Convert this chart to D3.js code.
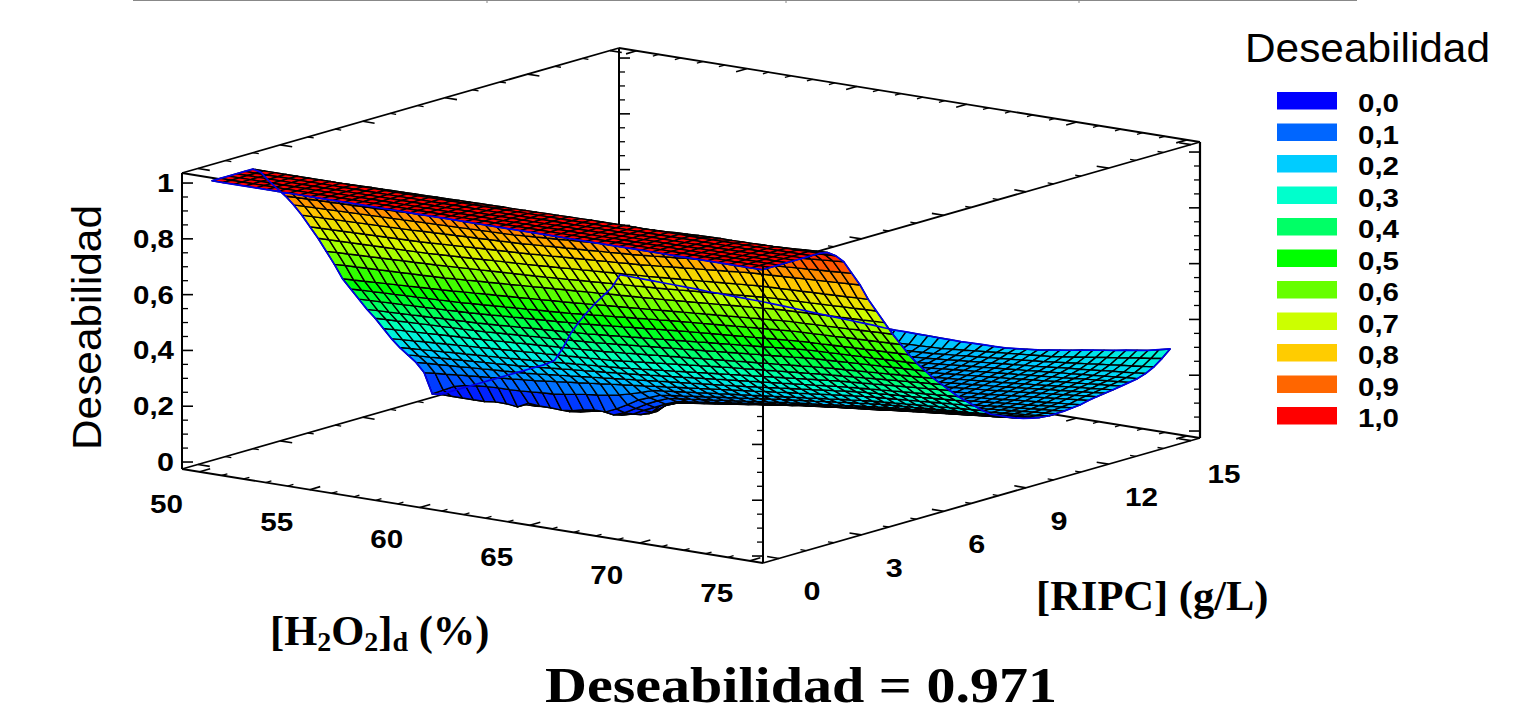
<!DOCTYPE html>
<html>
<head>
<meta charset="utf-8">
<script src="https://cdn.jsdelivr.net/npm/d3@7"></script>
<style>
  html, body { margin: 0; padding: 0; background: #fff; overflow: hidden; }
  svg { display: block; }
  text { font-family: "Liberation Sans", Arial, sans-serif; fill: #000; }
  .serif { font-family: "Liberation Serif", serif; font-weight: bold; }
  .tick-label { font-size: 26px; font-weight: bold; }
</style>
</head>
<body>
<svg id="chart" width="1536" height="704"></svg>
<script>
// tick values on the three axes
const hTicks = [50, 55, 60, 65, 70, 75];
const rTicks = [0, 3, 6, 9, 12, 15];
const zTicks = [0, 0.2, 0.4, 0.6, 0.8, 1];
const zTickLabels = ['0', '0,2', '0,4', '0,6', '0,8', '1'];
const legendLabels = ['0,0', '0,1', '0,2', '0,3', '0,4', '0,5', '0,6', '0,7', '0,8', '0,9', '1,0'];
const legendStops = [0, 0.1, 0.2, 0.3, 0.4, 0.5, 0.6, 0.7, 0.8, 0.9, 1];
const legendColors = ['#0000ff', '#0066ff', '#00ccff', '#00ffcc', '#00ff66', '#00ff00', '#66ff00', '#ccff00', '#ffcc00', '#ff6600', '#ff0000'];
const topRuleMarks = [487, 786, 1079];

// desirability x1000: one row per RIPC step, one column per H2O2 step
const surface = [
[1000,1000,1000,1000,1000,1000,1000,1000,1000,1000,1000,1000,1000,1000,1000,1000,1000,1000,1000,1000,1000,1000,1000,1000,1000,1000,1000,1000,1000,1000,1000,1000,1000,1000,1000,1000,1000,1000,1000,1000,1000,1000,1000,1000,1000,1000,1000,1000,1000,1000,1000],
[1000,1000,1000,1000,1000,1000,1000,1000,1000,1000,1000,1000,1000,1000,1000,1000,1000,1000,1000,1000,1000,1000,1000,1000,1000,1000,1000,1000,1000,1000,1000,1000,1000,1000,1000,1000,1000,1000,1000,1000,1000,1000,1000,1000,1000,1000,1000,1000,1000,1000,1000],
[1000,1000,1000,1000,1000,1000,1000,1000,1000,1000,1000,1000,1000,1000,1000,1000,1000,1000,1000,1000,1000,1000,1000,1000,1000,1000,1000,1000,1000,1000,1000,1000,1000,1000,1000,1000,1000,1000,1000,1000,1000,1000,1000,1000,1000,1000,1000,1000,1000,1000,1000],
[1000,1000,1000,1000,1000,1000,1000,1000,1000,1000,1000,1000,1000,1000,1000,1000,1000,1000,1000,1000,1000,1000,1000,1000,1000,1000,1000,1000,1000,1000,1000,1000,1000,1000,1000,1000,1000,1000,1000,1000,1000,1000,1000,1000,1000,1000,1000,1000,1000,1000,1000],
[1000,1000,1000,1000,1000,1000,1000,1000,1000,1000,1000,1000,1000,1000,1000,1000,1000,1000,1000,1000,1000,1000,1000,1000,1000,1000,1000,1000,1000,1000,1000,1000,1000,1000,1000,1000,1000,1000,1000,1000,1000,1000,1000,1000,1000,1000,1000,1000,1000,1000,1000],
[1000,1000,1000,1000,1000,1000,1000,1000,1000,1000,1000,1000,1000,1000,1000,1000,1000,1000,1000,1000,1000,1000,1000,1000,1000,1000,1000,1000,1000,1000,1000,1000,1000,1000,1000,1000,1000,1000,1000,1000,1000,1000,1000,1000,1000,1000,1000,1000,1000,1000,1000],
[980,981,982,983,984,985,986,987,988,989,990,990,991,991,992,992,993,993,994,994,995,995,996,996,997,997,998,998,999,999,1000,1000,1000,1000,1000,1000,1000,1000,1000,1000,1000,1000,1000,1000,1000,1000,1000,1000,1000,1000,1000],
[940,942,943,945,946,948,949,951,952,954,955,956,957,958,959,960,961,962,963,964,965,967,968,970,971,973,974,976,977,979,980,982,983,985,986,988,989,991,992,994,995,996,996,997,997,998,998,999,999,1000,1000],
[905,906,907,908,909,910,911,912,913,914,915,917,918,920,921,923,924,926,927,929,930,932,934,936,938,940,942,944,946,948,950,953,955,958,960,963,965,968,970,973,975,977,979,981,983,985,987,989,991,993,995],
[870,871,872,873,874,875,876,877,878,879,880,881,882,883,884,885,886,887,888,889,890,893,895,898,900,903,905,908,910,913,915,919,922,926,929,933,936,940,943,947,950,953,955,958,960,963,965,968,970,973,975],
[830,831,832,833,834,835,836,837,838,839,840,841,842,843,844,845,846,847,848,849,850,853,855,858,860,863,865,868,870,873,875,879,883,887,891,895,899,903,907,911,915,918,921,924,927,930,933,936,939,942,945],
[785,786,787,788,789,790,791,792,793,794,795,797,798,800,801,803,804,806,807,809,810,813,815,818,820,823,825,828,830,833,835,839,842,846,849,853,856,860,863,867,870,873,875,878,880,883,885,888,890,893,895],
[735,736,737,738,739,740,741,742,743,744,745,747,749,751,753,755,757,759,761,763,765,768,770,773,775,778,780,783,785,788,790,794,797,801,804,808,811,815,818,822,825,827,829,831,833,835,837,839,841,843,845],
[685,686,687,688,689,690,691,692,693,694,695,697,699,701,703,705,707,709,711,713,715,718,720,723,725,728,730,733,735,738,740,743,746,749,752,755,758,761,764,767,770,772,773,775,776,778,779,781,782,784,785],
[630,632,633,635,636,638,639,641,642,644,645,647,649,651,653,655,657,659,661,663,665,668,670,673,675,678,680,683,685,688,690,693,696,699,702,705,708,711,714,717,720,722,723,725,726,728,729,731,732,734,735],
[575,577,578,580,581,583,584,586,587,589,590,593,595,598,600,603,605,608,610,613,615,618,620,623,625,628,630,633,635,638,640,643,646,649,652,655,658,661,664,667,670,672,673,675,676,678,679,681,682,684,685],
[515,517,519,521,523,525,527,529,531,533,535,538,540,543,545,548,550,553,555,558,560,563,566,569,572,575,578,581,584,587,590,593,596,599,602,605,608,611,614,617,620,622,623,625,626,628,629,631,632,634,635],
[470,472,473,475,476,478,479,481,482,484,485,488,490,493,495,498,500,503,505,508,510,514,517,521,524,528,531,535,538,542,545,548,551,554,557,560,563,566,569,572,575,577,578,580,581,583,584,586,587,589,590],
[425,427,428,430,431,433,434,436,437,439,440,443,445,448,450,453,455,458,460,463,465,469,472,476,479,483,486,490,493,497,500,503,506,509,512,515,518,521,524,527,530,532,533,535,536,538,539,541,542,544,545],
[380,382,383,385,386,388,389,391,392,394,395,398,400,403,405,408,410,413,415,418,420,424,427,431,434,438,441,445,448,452,455,459,462,466,469,473,476,480,483,487,490,492,493,495,496,498,499,501,502,504,505],
[340,342,343,345,346,348,349,351,352,354,355,358,360,363,365,368,370,373,375,378,380,384,387,391,394,398,401,405,408,412,415,419,422,426,429,433,436,440,443,447,450,452,454,456,458,460,462,464,466,468,470],
[295,297,299,301,303,305,307,309,311,313,315,318,320,323,325,328,330,333,335,338,340,344,347,351,354,358,361,365,368,372,375,379,382,386,389,393,396,400,403,407,410,413,415,418,420,423,425,428,430,433,435],
[250,253,255,258,260,263,265,268,270,273,275,278,280,283,285,288,290,293,295,298,300,304,308,312,316,320,324,328,332,336,340,344,347,351,354,358,361,365,368,372,375,378,381,384,387,390,393,396,399,402,405],
[210,213,215,218,220,223,225,228,230,233,235,238,241,244,247,250,253,256,259,262,265,269,273,277,281,285,289,293,297,301,305,309,313,317,321,325,329,333,337,341,345,348,351,354,357,360,363,366,369,372,375],
[175,178,180,183,185,188,190,193,195,198,200,204,207,211,214,218,221,225,228,232,235,239,243,247,251,255,259,263,267,271,275,279,283,287,291,295,299,303,307,311,315,318,321,324,327,330,333,336,339,342,345],
[140,143,145,148,150,153,155,158,160,163,165,169,173,177,181,185,189,193,197,201,205,209,213,217,221,225,229,233,237,241,245,250,254,259,263,268,272,277,281,286,290,293,296,299,302,305,308,311,314,317,320],
[95,99,102,106,109,113,116,120,123,127,130,135,139,144,148,153,157,162,166,171,175,180,184,189,193,198,202,207,211,216,220,225,229,234,238,243,247,252,256,261,265,268,271,274,277,280,283,286,289,292,295],
[10,30,50,60,65,68,70,70,72,75,78,80,85,92,98,102,108,115,125,137,150,155,159,164,168,173,177,182,186,191,195,200,204,209,213,218,222,227,231,236,240,243,246,249,252,255,258,261,264,267,270],
[0,0,0,0,0,5,5,0,20,16,16,14,18,28,34,33,50,72,95,110,125,130,135,140,145,150,155,160,165,170,175,180,184,189,193,198,202,207,211,216,220,223,226,228,231,234,237,240,242,245,248],
[0,0,0,0,0,0,0,0,0,6,6,0,6,14,20,14,28,50,72,90,105,110,115,120,125,130,135,140,145,150,155,160,164,169,173,178,182,187,191,196,200,204,207,211,214,218,221,225,228,232,235],
[0,0,0,0,0,0,0,0,0,0,0,0,0,8,10,5,15,35,52,70,85,91,96,102,107,113,118,124,129,135,140,145,149,154,158,163,167,172,176,181,185,189,192,196,200,204,207,211,215,218,222],
[0,0,0,0,0,0,0,0,0,0,0,0,0,0,0,0,5,20,58,65,72,78,83,89,95,100,106,111,117,122,128,132,137,141,146,150,154,159,163,168,172,176,180,184,187,191,195,199,202,206,210],
[0,0,0,0,0,0,0,0,0,0,0,0,0,0,0,0,0,25,52,58,62,68,73,79,84,90,96,101,107,112,118,122,126,131,135,139,143,147,152,156,160,164,168,172,176,180,184,188,192,196,200],
[0,0,0,0,0,0,0,0,0,0,0,0,0,0,0,0,0,35,43,48,55,60,66,71,77,82,88,93,99,104,110,114,118,123,127,131,135,139,144,148,152,156,160,164,168,172,176,180,184,188,192],
[0,0,0,0,0,0,0,0,0,0,0,0,0,0,0,0,12,28,35,43,52,57,63,68,73,79,84,89,94,100,105,109,113,118,122,126,130,134,139,143,147,151,155,159,163,167,170,174,178,182,186],
[0,0,0,0,0,0,0,0,0,0,0,0,0,0,0,0,10,26,33,42,52,57,63,68,73,79,84,89,94,100,105,109,113,117,121,125,129,133,137,141,145,149,153,157,160,164,168,172,175,179,183],
[0,0,0,0,0,0,0,0,0,0,0,0,0,0,0,0,8,25,34,45,55,60,65,71,76,81,86,91,97,102,107,111,115,119,123,127,130,134,138,142,146,150,153,157,161,165,168,172,176,179,183],
[0,0,0,0,0,0,0,0,0,0,0,0,0,0,0,0,6,26,37,48,60,65,70,75,80,85,90,95,100,105,110,114,117,121,125,129,132,136,140,143,147,151,154,158,162,166,169,173,177,180,184],
[0,0,0,0,0,0,0,0,0,0,0,0,0,0,0,0,5,27,40,52,65,70,75,79,84,89,94,99,103,108,113,117,120,124,128,132,135,139,143,146,150,154,157,161,165,169,172,176,180,183,187],
[0,0,0,0,0,0,0,0,0,0,0,0,0,0,0,0,5,30,44,57,70,75,79,84,89,94,98,103,108,112,117,121,124,128,131,135,139,142,146,149,153,157,160,164,168,172,175,179,183,186,190],
[0,0,0,0,0,0,0,0,0,0,0,0,0,0,0,0,5,33,48,62,75,80,84,89,94,99,103,108,113,117,122,126,129,133,136,140,143,147,150,154,157,161,165,169,173,177,181,185,189,193,197],
[0,0,0,0,0,0,0,0,0,0,0,0,0,0,0,0,6,38,54,68,82,87,91,96,100,105,110,114,119,123,128,131,135,138,142,145,148,152,155,159,162,166,170,174,178,182,186,190,194,198,202],
[5,5,6,6,7,7,8,8,9,9,10,12,14,16,20,25,32,48,62,76,90,94,99,103,107,112,116,120,124,129,133,136,140,143,147,150,153,157,160,164,167,171,175,179,183,187,190,194,198,202,206],
[40,40,41,41,42,42,43,43,44,44,45,47,50,53,57,62,68,75,82,90,98,102,106,110,114,118,122,126,130,134,138,141,145,148,152,155,158,162,165,169,172,176,180,183,187,191,195,199,202,206,210],
[86,86,86,86,86,86,85,85,85,85,85,87,89,91,93,95,98,100,102,105,107,111,114,118,122,125,129,132,136,139,143,147,150,154,157,161,164,168,171,175,178,182,186,189,193,197,200,204,208,211,215],
[118,117,117,116,116,115,115,114,113,113,112,113,113,114,114,115,115,116,116,117,117,120,123,127,130,133,136,139,143,146,149,153,156,160,163,167,170,174,177,181,184,188,191,195,198,202,206,209,213,216,220],
[145,144,143,142,141,140,139,138,137,136,135,134,133,132,131,131,130,129,128,128,127,130,133,135,138,141,144,147,149,152,155,159,162,166,169,173,176,180,183,187,190,194,197,201,204,208,211,215,218,222,225],
[168,167,165,164,163,162,160,159,158,156,155,153,151,150,148,146,145,143,141,140,138,140,143,145,148,150,152,155,157,160,162,166,169,173,176,180,183,187,190,194,197,201,205,209,212,216,220,224,227,231,235],
[188,187,185,184,183,182,180,179,178,176,175,173,170,168,165,163,160,158,155,153,150,152,154,156,158,160,162,164,166,168,170,174,177,181,184,188,191,195,198,202,205,210,214,219,223,228,232,237,241,246,250],
[207,206,205,204,203,201,200,199,198,196,195,192,189,186,183,180,177,174,171,168,165,167,168,170,171,173,174,176,177,179,180,184,187,191,194,198,201,205,208,212,215,221,226,232,238,244,249,255,261,266,272],
[245,244,243,242,241,240,239,238,236,235,234,233,232,231,229,227,225,223,221,219,217,215,213,211,208,206,206,205,205,204,204,203,204,205,205,206,210,214,218,224,230,236,243,249,255,261,268,274,280,289,298]
];

const hStep = 0.5, hStart = 49.84;   // first mesh column sits just left of the 50 tick
const rStep = 0.297;

const svg = d3.select('#chart');

// box corners on screen
const boxLeft = [182, 469], boxFront = [763, 563], boxRight = [1200, 438], boxHeight = 296;

const hScale = d3.scaleLinear().domain([49.2, 75.6]).range([0, 1]);
const rScale = d3.scaleLinear().domain([-0.58, 15.33]).range([0, 1]);
const zScale = d3.scaleLinear().domain([-0.025, 1.036]).range([0, boxHeight]);
const colorScale = d3.scaleLinear().domain(legendStops).range(legendColors);

const hDir = [boxFront[0] - boxLeft[0], boxFront[1] - boxLeft[1]];
const rDir = [boxRight[0] - boxFront[0], boxRight[1] - boxFront[1]];

function project(h, r, z) {
    const a = hScale(h), b = rScale(r);
    return [
        boxLeft[0] + a * hDir[0] + b * rDir[0],
        boxLeft[1] + a * hDir[1] + b * rDir[1] - zScale(z)
    ];
}

const line = d3.line();
const [hMin, hMax] = hScale.domain();
const [rMin, rMax] = rScale.domain();
const [zMin, zMax] = zScale.domain();

function unit(v) {
    const n = Math.hypot(v[0], v[1]);
    return [v[0] / n, v[1] / n];
}

const back = svg.append('g').attr('stroke', '#000').attr('fill', 'none');

// faint rule along the top of the page
svg.append('line').attr('x1', 133).attr('x2', 1357).attr('y1', 0.5).attr('y2', 0.5)
    .attr('stroke', '#888').attr('stroke-width', 1.2);
svg.selectAll(null).data(topRuleMarks).join('line')
    .attr('x1', d => d).attr('x2', d => d).attr('y1', 0).attr('y2', 3)
    .attr('stroke', '#888').attr('stroke-width', 1);

function drawEdge(group, a, b, width) {
    group.append('path').attr('d', line([a, b])).attr('stroke-width', width);
}

// ticks along an edge; at() gives the point, dir the way the tick leans
function drawTicks(group, values, isMajor, at, dir, major, minor) {
    const u = unit(dir);
    group.selectAll(null).data(values).join('path')
        .attr('stroke-width', d => isMajor(d) ? 1.6 : 1.3)
        .attr('d', d => {
            const p = at(d), len = isMajor(d) ? major : minor;
            return line([p, [p[0] + u[0] * len, p[1] + u[1] * len]]);
        });
}

const hAll = d3.range(50, 76);
const rAll = d3.range(0, 16);
const zAll = d3.range(0, 21).map(d => d * 0.05);
const hIsMajor = d => d % 5 === 0;
const rIsMajor = d => d % 3 === 0;
const zIsMajor = d => Math.round(d * 20) % 4 === 0;

const minusH = [-hDir[0], -hDir[1]];
const minusR = [-rDir[0], -rDir[1]];

// edges and ticks behind the surface
drawEdge(back, project(hMin, rMin, zMin), project(hMin, rMin, zMax), 2);
drawEdge(back, project(hMin, rMax, zMin), project(hMin, rMax, zMax), 2);
drawEdge(back, project(hMax, rMax, zMin), project(hMax, rMax, zMax), 2.2);
drawEdge(back, project(hMin, rMin, zMax), project(hMin, rMax, zMax), 1.8);
drawEdge(back, project(hMin, rMax, zMax), project(hMax, rMax, zMax), 1.8);
drawEdge(back, project(hMax, rMax, zMax), project(hMax, rMin, zMax), 1.8);
drawEdge(back, project(hMin, rMin, zMax), project(hMax, rMin, zMax), 1.8);
drawEdge(back, project(hMin, rMin, zMin), project(hMin, rMax, zMin), 1.8);
drawEdge(back, project(hMin, rMax, zMin), project(hMax, rMax, zMin), 1.8);
drawEdge(back, project(hMax, rMax, zMin), project(hMax, rMin, zMin), 1.8);
drawEdge(back, project(hMax, rMin, zMin), project(hMin, rMin, zMin), 1.8);
drawEdge(back, project(hMax, rMin, zMin), project(hMax, rMin, zMax), 2);

drawTicks(back, zAll, zIsMajor, d => project(hMin, rMin, d), [1, 0], 11, 6);
drawTicks(back, zAll, zIsMajor, d => project(hMin, rMax, d), [1, 0], 11, 6);
drawTicks(back, zAll, zIsMajor, d => project(hMax, rMax, d), [-1, 0], 11, 6);
drawTicks(back, zAll, zIsMajor, d => project(hMax, rMin, d), [-1, 0], 11, 6);
drawTicks(back, hAll, hIsMajor, d => project(d, rMin, zMin), rDir, 11, 6);
drawTicks(back, rAll, rIsMajor, d => project(hMax, d, zMin), minusH, 12, 6);
drawTicks(back, rAll, rIsMajor, d => project(hMin, d, zMax), hDir, 12, 6);
drawTicks(back, hAll, hIsMajor, d => project(d, rMax, zMax), minusR, 11, 6);
drawTicks(back, rAll, rIsMajor, d => project(hMax, d, zMax), minusH, 12, 6);
drawTicks(back, rAll, rIsMajor, d => project(hMin, d, zMin), hDir, 12, 6);
drawTicks(back, hAll, hIsMajor, d => project(d, rMax, zMin), minusR, 11, 6);

// mesh cells, far RIPC rows first so the near ones paint over them
const cells = [];
for (let j = surface.length - 2; j >= 0; j--) {
    for (let i = 0; i < surface[j].length - 1; i++) {
        cells.push({ i, j });
    }
}

const meshPoint = (i, j) => project(hStart + i * hStep, j * rStep, surface[j][i] / 1000);

svg.append('g')
    .selectAll('path')
    .data(cells)
    .join('path')
    .attr('d', c => line([
        meshPoint(c.i, c.j), meshPoint(c.i + 1, c.j),
        meshPoint(c.i + 1, c.j + 1), meshPoint(c.i, c.j + 1)
    ]) + 'Z')
    .attr('fill', c => colorScale((surface[c.j][c.i] + surface[c.j][c.i + 1] + surface[c.j + 1][c.i] + surface[c.j + 1][c.i + 1]) / 4000))
    .attr('stroke', '#000')
    .attr('stroke-width', 1.4)
    .attr('stroke-linejoin', 'round');

// blue outline of the mesh goes on top of everything in it
const lastRow = surface.length - 1, lastCol = surface[0].length - 1;
const outline = [];
for (let j = 0; j <= lastRow; j++) outline.push(meshPoint(0, j));
for (let i = 1; i <= lastCol; i++) outline.push(meshPoint(i, lastRow));
for (let j = lastRow - 1; j >= 0; j--) outline.push(meshPoint(lastCol, j));
for (let i = lastCol - 1; i >= 0; i--) outline.push(meshPoint(i, 0));
svg.append('path').attr('d', line(outline) + 'Z')
    .attr('fill', 'none').attr('stroke', '#0000e6').attr('stroke-width', 1.7).attr('stroke-linejoin', 'round');

// front vertical edge runs over the surface
svg.append('path').attr('d', line([project(hMax, rMin, zMin), project(hMax, rMin, zMax)]))
    .attr('stroke', '#000').attr('stroke-width', 2).attr('fill', 'none');

// tick labels
function tickLabel(sel) {
    sel.attr('class', 'tick-label').attr('lengthAdjust', 'spacingAndGlyphs')
        .attr('textLength', d => d.label.length === 3 ? 41 : d.label.length === 2 ? 33 : 17);
}

svg.selectAll(null).data(zTicks.map((z, k) => ({ z, label: zTickLabels[k] }))).join('text')
    .call(tickLabel)
    .attr('text-anchor', 'end')
    .attr('x', 174)
    .attr('y', d => project(hMin, rMin, d.z)[1] + 9)
    .text(d => d.label);

svg.selectAll(null).data(hTicks.map(h => ({ h, label: String(h) }))).join('text')
    .call(tickLabel)
    .attr('text-anchor', 'middle')
    .attr('x', d => project(d.h, rMin, zMin)[0] - 33)
    .attr('y', d => project(d.h, rMin, zMin)[1] + 41)
    .text(d => d.label);

svg.selectAll(null).data(rTicks.map(r => ({ r, label: String(r) }))).join('text')
    .call(tickLabel)
    .attr('text-anchor', 'middle')
    .attr('x', d => project(hMax, d.r, zMin)[0] + 33)
    .attr('y', d => project(hMax, d.r, zMin)[1] + 42)
    .text(d => d.label);

// legend
const legendY = d3.scalePoint().domain(legendLabels).range([92, 407]);
const legend = svg.append('g');
legend.selectAll('rect').data(legendLabels).join('rect')
    .attr('x', 1277).attr('width', 60).attr('height', 17.5)
    .attr('y', d => legendY(d))
    .attr('fill', (d, k) => legendColors[k]);
legend.selectAll('text').data(legendLabels).join('text')
    .attr('class', 'tick-label')
    .attr('x', 1358)
    .attr('y', d => legendY(d) + 20)
    .attr('textLength', 41).attr('lengthAdjust', 'spacingAndGlyphs')
    .text(d => d);

svg.append('text').attr('x', 1245).attr('y', 62).attr('font-size', 41)
    .attr('textLength', 245).attr('lengthAdjust', 'spacingAndGlyphs').text('Deseabilidad');

svg.append('text').attr('transform', 'translate(101,450) rotate(-90)').attr('font-size', 41)
    .attr('textLength', 245).attr('lengthAdjust', 'spacingAndGlyphs').text('Deseabilidad');

// axis titles
const hTitle = svg.append('text').attr('class', 'serif').attr('x', 270).attr('y', 645).attr('font-size', 42.5);
hTitle.append('tspan').text('[H');
hTitle.append('tspan').attr('font-size', 28).attr('dy', 6).text('2');
hTitle.append('tspan').attr('dy', -6).text('O');
hTitle.append('tspan').attr('font-size', 28).attr('dy', 6).text('2');
hTitle.append('tspan').attr('dy', -6).text(']');
hTitle.append('tspan').attr('font-size', 28).attr('dy', 6).text('d');
hTitle.append('tspan').attr('dy', -6).text(' (%)');

svg.append('text').attr('class', 'serif').attr('x', 1036).attr('y', 610).attr('font-size', 42.5).text('[RIPC] (g/L)');

svg.append('text').attr('class', 'serif').attr('x', 545).attr('y', 702).attr('font-size', 50)
    .attr('textLength', 512).attr('lengthAdjust', 'spacingAndGlyphs').text('Deseabilidad = 0.971');
</script>
</body>
</html>
